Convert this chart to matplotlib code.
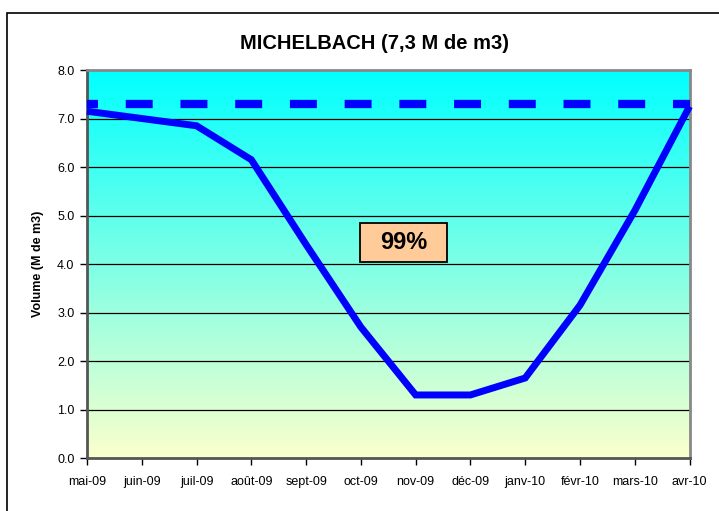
import matplotlib
matplotlib.use('Agg')
import matplotlib.pyplot as plt
import matplotlib.patches as patches
import numpy as np
from matplotlib.colors import LinearSegmentedColormap

plt.rcParams['font.family'] = ['Liberation Sans', 'DejaVu Sans']

months = ['mai-09', 'juin-09', 'juil-09', 'août-09', 'sept-09', 'oct-09',
          'nov-09', 'déc-09', 'janv-10', 'févr-10', 'mars-10', 'avr-10']
volume = [7.15, 7.0, 6.85, 6.15, 4.4, 2.7, 1.3, 1.3, 1.65, 3.15, 5.1, 7.25]
capacity = 7.3
fill_label = '99%'

fig = plt.figure(figsize=(7.19, 5.11), dpi=100)
ax = fig.add_axes([0.121, 0.1037, 0.838, 0.7593])

# outer chart frame (runs off the right and bottom edges)
W, H = 719, 511
frame = patches.Rectangle((7 / W, -0.1), 1.2, (H - 13) / H + 0.1,
                          transform=fig.transFigure, fill=False,
                          edgecolor='black', linewidth=1.2)
fig.patches.append(frame)

x = np.arange(len(months))

# gradient background: cyan on top, pale yellow at bottom
cmap = LinearSegmentedColormap.from_list('bg', ['#FBFFCC', '#00FFFF'])
grad = np.linspace(0, 1, 256).reshape(-1, 1)
ax.imshow(grad, aspect='auto', cmap=cmap, origin='lower',
          extent=[0, len(months) - 1, 0, 8], zorder=0)

# grid
for yv in range(1, 8):
    ax.axhline(yv, color='black', linewidth=0.9, zorder=1)

# capacity dashed line
ax.plot([0, len(months) - 1], [capacity, capacity], color='#0000FF',
        linewidth=6, solid_capstyle='butt', dash_capstyle='butt',
        linestyle=(11.5 / 6, (19.4 / 6, 20.0 / 6)), zorder=3)

# volume line
ax.plot(x, volume, color='#0000FF', linewidth=5, solid_joinstyle='miter',
        solid_capstyle='butt', zorder=4, clip_on=False)

# percentage box
ax.add_patch(patches.Rectangle((4.99, 4.04), 1.59, 0.81, facecolor='#FFCC99',
                               edgecolor='black', linewidth=1.3, zorder=5))
ax.text(4.99 + 1.59 / 2, 4.04 + 0.81 / 2, fill_label, fontsize=17,
        fontweight='bold', ha='center', va='center', zorder=6)

ax.set_xlim(0, len(months) - 1)
ax.set_ylim(0, 8)
ax.set_xticks(x)
ax.set_xticklabels(months, fontsize=9)
ax.set_yticks(np.arange(0, 9, 1))
ax.set_yticklabels([f'{v:.1f}' for v in range(0, 9)], fontsize=9)
ax.tick_params(direction='out', length=5, width=1, pad=4)
ax.tick_params(axis='x', pad=8)

for side in ['top', 'right']:
    ax.spines[side].set_color('#888888')
    ax.spines[side].set_linewidth(2)
for side in ['left', 'bottom']:
    ax.spines[side].set_color('#555555')
    ax.spines[side].set_linewidth(2)

ax.set_ylabel('Volume (M de m3)', fontsize=9, fontweight='bold')
ax.yaxis.set_label_coords(-0.071, 0.5)
fig.text(375 / W, 1 - 43 / H, 'MICHELBACH (7,3 M de m3)', fontsize=14.5,
         fontweight='bold', ha='center', va='center')

fig.savefig('out.png', dpi=100)
